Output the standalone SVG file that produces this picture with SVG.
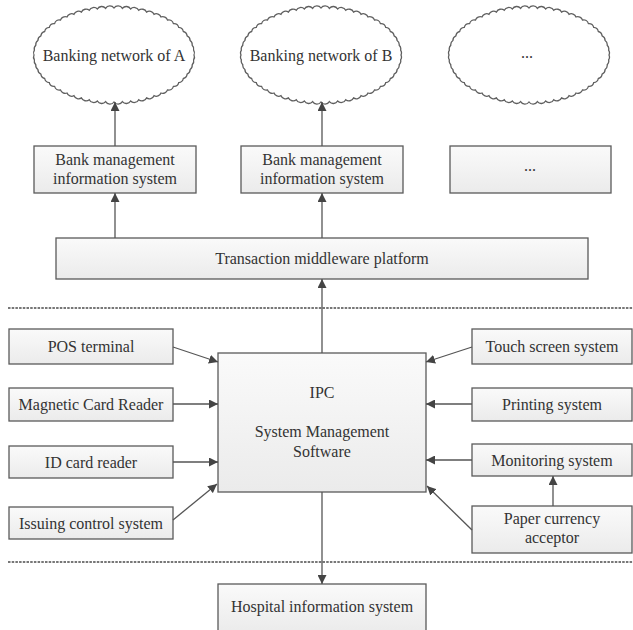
<svg xmlns="http://www.w3.org/2000/svg" xmlns:xlink="http://www.w3.org/1999/xlink" width="633" height="630" viewBox="0 0 633 630">
<style>
.box{fill:url(#g);stroke:#5a5a5a;stroke-width:1.3}
.cloud{fill:#fff;stroke:#5f5f5f;stroke-width:1.3}
text{font-family:"Liberation Serif","Times New Roman",serif;font-size:16px;fill:#333;text-anchor:middle}
.c{fill:none;stroke:#555;stroke-width:1.3;marker-end:url(#ah)}
.sep{stroke:#777;stroke-width:1.8;stroke-dasharray:2.5 1.2}
</style>
<defs>
<linearGradient id="g" x1="0" y1="0" x2="0" y2="1"><stop offset="0" stop-color="#fafafa"/><stop offset="1" stop-color="#ebebeb"/></linearGradient>
<marker id="ah" viewBox="0 0 10 10" refX="10" refY="5" markerWidth="9" markerHeight="9" markerUnits="userSpaceOnUse" orient="auto"><path d="M0,0 L10,5 L0,10 Z" fill="#444"/></marker>
<path id="cl" d="M80,0 A5 5 0 0 1 79.6,4.9 A5 5 0 0 1 78.2,9.8 A5 5 0 0 1 76.1,14.5 A5 5 0 0 1 73.1,19.1 A5 5 0 0 1 69.3,23.5 A5 5 0 0 1 64.7,27.6 A5 5 0 0 1 59.4,31.4 A5 5 0 0 1 53.5,34.9 A5 5 0 0 1 47,38 A5 5 0 0 1 40,40.7 A5 5 0 0 1 32.5,42.9 A5 5 0 0 1 24.7,44.7 A5 5 0 0 1 16.6,46 A5 5 0 0 1 8.4,46.7 A5 5 0 0 1 0,47 A5 5 0 0 1 -8.4,46.7 A5 5 0 0 1 -16.6,46 A5 5 0 0 1 -24.7,44.7 A5 5 0 0 1 -32.5,42.9 A5 5 0 0 1 -40,40.7 A5 5 0 0 1 -47,38 A5 5 0 0 1 -53.5,34.9 A5 5 0 0 1 -59.4,31.4 A5 5 0 0 1 -64.7,27.6 A5 5 0 0 1 -69.3,23.5 A5 5 0 0 1 -73.1,19.1 A5 5 0 0 1 -76.1,14.5 A5 5 0 0 1 -78.2,9.8 A5 5 0 0 1 -79.6,4.9 A5 5 0 0 1 -80,0 A5 5 0 0 1 -79.6,-4.9 A5 5 0 0 1 -78.2,-9.8 A5 5 0 0 1 -76.1,-14.5 A5 5 0 0 1 -73.1,-19.1 A5 5 0 0 1 -69.3,-23.5 A5 5 0 0 1 -64.7,-27.6 A5 5 0 0 1 -59.4,-31.4 A5 5 0 0 1 -53.5,-34.9 A5 5 0 0 1 -47,-38 A5 5 0 0 1 -40,-40.7 A5 5 0 0 1 -32.5,-42.9 A5 5 0 0 1 -24.7,-44.7 A5 5 0 0 1 -16.6,-46 A5 5 0 0 1 -8.4,-46.7 A5 5 0 0 1 0,-47 A5 5 0 0 1 8.4,-46.7 A5 5 0 0 1 16.6,-46 A5 5 0 0 1 24.7,-44.7 A5 5 0 0 1 32.5,-42.9 A5 5 0 0 1 40,-40.7 A5 5 0 0 1 47,-38 A5 5 0 0 1 53.5,-34.9 A5 5 0 0 1 59.4,-31.4 A5 5 0 0 1 64.7,-27.6 A5 5 0 0 1 69.3,-23.5 A5 5 0 0 1 73.1,-19.1 A5 5 0 0 1 76.1,-14.5 A5 5 0 0 1 78.2,-9.8 A5 5 0 0 1 79.6,-4.9 A5 5 0 0 1 80,0 Z"/>
</defs>
<rect width="633" height="630" fill="#fff"/>

<g id="separators">
<line class="sep" x1="8" y1="308" x2="633" y2="308"/>
<line class="sep" x1="8" y1="562" x2="633" y2="562"/>
</g>

<g id="cloudA"><use xlink:href="#cl" class="cloud" transform="translate(114,55)"/><text x="114" y="61">Banking network of A</text></g>
<g id="cloudB"><use xlink:href="#cl" class="cloud" transform="translate(321,55)"/><text x="321" y="61">Banking network of B</text></g>
<g id="cloudC"><use xlink:href="#cl" class="cloud" transform="translate(529,55)"/><text x="527" y="58">...</text></g>

<g id="bankA"><rect class="box" x="34" y="146" width="162" height="47"/><text x="115" y="165">Bank management</text><text x="115" y="184">information system</text></g>
<g id="bankB"><rect class="box" x="241" y="146" width="162" height="47"/><text x="322" y="165">Bank management</text><text x="322" y="184">information system</text></g>
<g id="bankC"><rect class="box" x="450" y="146" width="161" height="47"/><text x="530" y="171">...</text></g>

<g id="middleware"><rect class="box" x="56" y="238" width="532" height="41"/><text x="322" y="264">Transaction middleware platform</text></g>

<g id="ipc"><rect class="box" x="218" y="353" width="208" height="139"/><text x="322" y="398">IPC</text><text x="322" y="437">System Management</text><text x="322" y="457">Software</text></g>

<g id="pos"><rect class="box" x="9" y="329" width="164" height="35"/><text x="91" y="352">POS terminal</text></g>
<g id="mag"><rect class="box" x="9" y="388" width="164" height="33"/><text x="91" y="410">Magnetic Card Reader</text></g>
<g id="idcard"><rect class="box" x="9" y="446" width="164" height="32"/><text x="91" y="468">ID card reader</text></g>
<g id="issuing"><rect class="box" x="9" y="507" width="164" height="32"/><text x="91" y="529">Issuing control system</text></g>

<g id="touch"><rect class="box" x="472" y="329" width="160" height="35"/><text x="552" y="352">Touch screen system</text></g>
<g id="printing"><rect class="box" x="472" y="388" width="160" height="33"/><text x="552" y="410">Printing system</text></g>
<g id="monitoring"><rect class="box" x="472" y="444" width="160" height="32"/><text x="552" y="466">Monitoring system</text></g>
<g id="paper"><rect class="box" x="472" y="506" width="160" height="47"/><text x="552" y="524">Paper currency</text><text x="552" y="543">acceptor</text></g>

<g id="hospital"><rect class="box" x="218" y="584" width="208" height="48"/><text x="322" y="612">Hospital information system</text></g>

<g id="connectors">
<line class="c" x1="115" y1="146" x2="115" y2="102"/>
<line class="c" x1="322" y1="146" x2="322" y2="102"/>
<line class="c" x1="115" y1="238" x2="115" y2="193"/>
<line class="c" x1="322" y1="238" x2="322" y2="193"/>
<line class="c" x1="322" y1="353" x2="322" y2="279"/>
<line class="c" x1="173" y1="347" x2="218" y2="362"/>
<line class="c" x1="173" y1="404" x2="218" y2="404"/>
<line class="c" x1="173" y1="462" x2="218" y2="462"/>
<line class="c" x1="173" y1="520" x2="217" y2="484"/>
<line class="c" x1="472" y1="347" x2="426" y2="362"/>
<line class="c" x1="472" y1="404" x2="426" y2="404"/>
<line class="c" x1="472" y1="460" x2="426" y2="460"/>
<line class="c" x1="472" y1="530" x2="427" y2="486"/>
<line class="c" x1="553" y1="506" x2="553" y2="476"/>
<line class="c" x1="322" y1="492" x2="322" y2="584"/>
</g>
</svg>
